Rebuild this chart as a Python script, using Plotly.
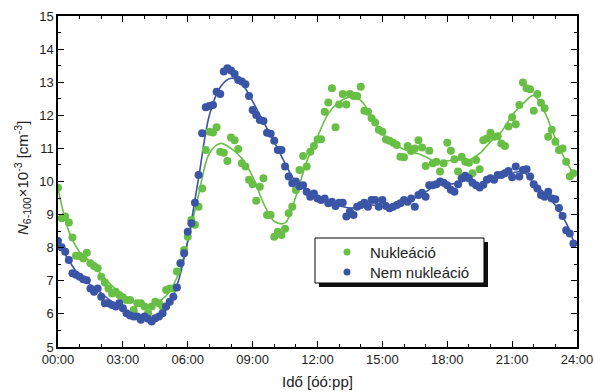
import plotly.graph_objects as go

# Measurements every 10 minutes, 00:00 .. 23:50
step_minutes = 10

nucleation = [
    9.81, 8.89, 8.94, 8.76, 8.31, 7.76, 7.75, 7.67, 7.85, 7.53, 7.45, 7.38,
    7.12, 6.95, 6.77, 6.62, 6.67, 6.57, 6.50, 6.42, 6.42, 6.12, 6.32, 6.32,
    6.22, 6.02, 6.22, 6.37, 6.32, 6.22, 6.72, 6.77, 6.77, 7.28, 7.53, 7.93,
    8.33, 8.84, 8.69, 9.24, 9.79, 10.95, 11.50, 11.48, 11.64, 10.90, 10.87, 10.62,
    11.33, 11.25, 10.98, 10.55, 10.45, 10.05, 9.92, 9.42, 9.84, 10.10, 8.99, 8.99,
    8.33, 8.48, 8.38, 8.57, 9.04, 9.24, 9.74, 10.35, 10.77, 10.45, 10.90, 11.07,
    11.27, 11.28, 12.11, 12.39, 12.82, 11.64, 12.33, 12.64, 12.33, 12.64, 12.58, 12.58,
    12.86, 12.14, 12.11, 11.91, 11.78, 11.56, 11.50, 11.27, 11.23, 11.17, 11.10, 10.75,
    10.73, 11.07, 10.92, 11.00, 11.25, 11.03, 10.47, 10.93, 10.55, 10.60, 10.30, 10.55,
    11.17, 10.93, 10.67, 10.30, 10.75, 10.60, 10.57, 10.25, 10.65, 10.37, 11.25, 11.30,
    11.47, 11.35, 11.37, 11.15, 11.07, 11.66, 11.94, 11.73, 12.31, 12.99, 12.82, 12.79,
    12.14, 12.64, 12.38, 12.21, 11.35, 11.56, 11.20, 10.95, 11.00, 10.60, 10.15, 10.25,
]

no_nucleation = [
    8.20, 8.01, 7.88, 7.63, 7.23, 7.18, 7.12, 7.05, 7.02, 6.77, 6.67, 6.77,
    6.52, 6.32, 6.32, 6.27, 6.22, 6.32, 6.17, 6.02, 5.95, 5.92, 5.92, 5.82,
    5.92, 5.85, 5.77, 5.87, 5.92, 6.02, 6.22, 6.37, 6.52, 6.80, 7.53, 7.83,
    8.48, 8.74, 9.36, 10.20, 11.46, 12.24, 12.28, 12.31, 12.71, 12.64, 13.32, 13.42,
    13.35, 13.25, 13.07, 13.02, 12.94, 12.58, 12.16, 12.01, 11.86, 11.83, 11.47, 11.44,
    11.23, 10.95, 10.95, 10.45, 10.15, 9.95, 10.00, 9.86, 9.89, 9.69, 9.54, 9.64,
    9.49, 9.44, 9.49, 9.34, 9.39, 9.26, 9.36, 9.36, 8.94, 9.09, 8.99, 9.24,
    9.29, 9.36, 9.24, 9.44, 9.44, 9.24, 9.44, 9.26, 9.19, 9.24, 9.29, 9.34,
    9.44, 9.39, 9.49, 9.24, 9.59, 9.66, 9.54, 9.89, 9.89, 9.92, 10.00, 9.96,
    9.89, 9.75, 9.69, 9.92, 10.10, 10.17, 10.10, 9.96, 9.89, 9.82, 9.90, 10.05,
    10.10, 10.05, 10.20, 10.20, 10.25, 10.32, 10.13, 10.45, 10.15, 10.35, 10.37, 10.15,
    9.92, 9.79, 9.59, 9.54, 9.69, 9.49, 9.46, 9.20, 8.96, 8.53, 8.43, 8.13,
]

# Smoothed curves, one value per half hour plus the last sample at 23:50
smooth_minutes = [i * 30 for i in range(48)] + [1430]
nucleation_smooth = [
    9.80, 8.50, 7.87, 7.57, 7.20, 6.85, 6.57, 6.38, 6.24, 6.32, 6.55, 7.10,
    8.20, 9.60, 10.85, 11.15, 11.00, 10.70, 10.15, 9.35, 8.80, 8.75, 9.55, 10.60,
    11.35, 12.05, 12.40, 12.55, 12.45, 11.95, 11.45, 11.15, 10.97, 10.87, 10.75, 10.58,
    10.62, 10.65, 10.65, 10.85, 11.20, 11.50, 12.00, 12.35, 12.60, 12.10, 11.30, 10.60,
    10.25,
]
no_nucleation_smooth = [
    8.20, 7.62, 7.15, 6.88, 6.63, 6.36, 6.15, 5.99, 5.87, 5.85, 6.12, 6.85,
    8.20, 10.10, 12.00, 12.85, 13.12, 12.95, 12.42, 11.80, 11.20, 10.55, 9.98, 9.72,
    9.58, 9.40, 9.27, 9.20, 9.22, 9.29, 9.25, 9.27, 9.38, 9.50, 9.68, 9.90,
    9.92, 9.95, 10.05, 9.90, 10.05, 10.18, 10.25, 10.30, 9.95, 9.65, 9.28, 8.75,
    8.20,
]

x_tick_hours = [0, 3, 6, 9, 12, 15, 18, 21, 24]
x_tick_labels = ["00:00", "03:00", "06:00", "09:00", "12:00", "15:00", "18:00", "21:00", "24:00"]

series_names = ["Nukleáció", "Nem nukleáció"]
GREEN = "#68bf45"
BLUE = "#3a55a5"
series_colors = [GREEN, BLUE]

hours = [i * step_minutes / 60 for i in range(len(nucleation))]
smooth_hours = [m / 60 for m in smooth_minutes]

fig = go.Figure()

fig.add_trace(go.Scatter(
    x=smooth_hours, y=nucleation_smooth, mode="lines",
    line=dict(color=GREEN, width=1.6, shape="spline", smoothing=1.0),
    hoverinfo="skip"))
fig.add_trace(go.Scatter(
    x=smooth_hours, y=no_nucleation_smooth, mode="lines",
    line=dict(color=BLUE, width=1.6, shape="spline", smoothing=1.0),
    hoverinfo="skip"))
fig.add_trace(go.Scatter(
    x=hours, y=nucleation, mode="markers", name=series_names[0],
    marker=dict(color=GREEN, size=8, line=dict(width=0))))
fig.add_trace(go.Scatter(
    x=hours, y=no_nucleation, mode="markers", name=series_names[1],
    marker=dict(color=BLUE, size=8, line=dict(width=0))))

font_family = "Liberation Sans, Arial, sans-serif"
text_color = "#222"

# Plot area in pixels
L, R, T, B = 58, 18, 16, 45
W, H = 595, 392
plot_w = W - L - R
plot_h = H - T - B


def px_x(px):
    return (px - L) / plot_w


def px_y(py):
    return (H - B - py) / plot_h


axis_common = dict(
    showline=True, linecolor="black", linewidth=1.5, mirror="ticks",
    ticks="inside", tickcolor="black", tickwidth=1.2, ticklen=6,
    showgrid=False, zeroline=False, automargin=False,
    tickfont=dict(family=font_family, size=13, color=text_color),
)

fig.update_xaxes(
    range=[0, 24], tickvals=x_tick_hours, ticktext=x_tick_labels,
    minor=dict(dtick=1, ticks="inside", ticklen=3, tickcolor="black", tickwidth=1.2),
    **axis_common)
fig.update_yaxes(
    range=[5, 15], dtick=1,
    minor=dict(dtick=0.5, ticks="inside", ticklen=3, tickcolor="black", tickwidth=1.2),
    **axis_common)

# Axis titles
fig.add_annotation(
    text="Idő [óó:pp]", xref="paper", yref="paper", x=0.5, y=px_y(381),
    xanchor="center", yanchor="middle", showarrow=False,
    font=dict(family=font_family, size=15, color=text_color))
fig.add_annotation(
    text="<i>N</i><sub>6-100</sub>×10<sup>-3</sup> [cm<sup>-3</sup>]",
    xref="paper", yref="paper", x=px_x(22), y=px_y(178), textangle=-90,
    xanchor="center", yanchor="middle", showarrow=False,
    font=dict(family=font_family, size=15, color=text_color))

# Legend: framed box with a drop shadow, a dot and a label per series
fig.add_shape(type="rect", xref="paper", yref="paper",
              x0=px_x(319), x1=px_x(488), y0=px_y(287), y1=px_y(242),
              fillcolor="#111", line=dict(width=0), layer="above")
fig.add_shape(type="rect", xref="paper", yref="paper",
              x0=px_x(315), x1=px_x(484), y0=px_y(283), y1=px_y(238),
              fillcolor="white", line=dict(color="black", width=1), layer="above")
legend_rows = [252, 272]
for name, color, row in zip(series_names, series_colors, legend_rows):
    fig.add_shape(type="circle", xref="paper", yref="paper",
                  x0=px_x(347 - 3.5), x1=px_x(347 + 3.5),
                  y0=px_y(row + 3.5), y1=px_y(row - 3.5),
                  fillcolor=color, line=dict(width=0), layer="above")
    fig.add_annotation(
        text=name, xref="paper", yref="paper", x=px_x(368), y=px_y(row),
        xanchor="left", yanchor="middle", showarrow=False,
        font=dict(family=font_family, size=15, color=text_color))

fig.update_layout(
    width=W, height=H,
    margin=dict(l=L, r=R, t=T, b=B),
    paper_bgcolor="white", plot_bgcolor="white",
    font=dict(family=font_family, color=text_color),
    showlegend=False,
)

fig.write_html("out.html")
